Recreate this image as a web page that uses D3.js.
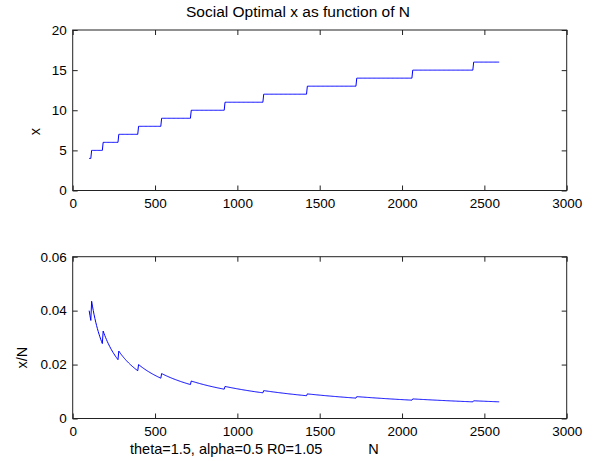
<!DOCTYPE html>
<html>
<head>
<meta charset="utf-8">
<script src="https://cdn.jsdelivr.net/npm/d3@7/dist/d3.min.js"></script>
<style>
  html, body { margin: 0; padding: 0; background: #fff; }
  svg { display: block; }
  text { font-family: "Liberation Sans", Arial, sans-serif; fill: #000; }
</style>
</head>
<body>
<svg id="chart" width="595" height="461"></svg>
<script>
// ---- data ----
// N at which the optimal x changes, and the x value from that N on
const stepN = [100, 113, 183, 280, 398, 540, 718, 925, 1160, 1423, 1725, 2061, 2435];
const stepX = [4, 5, 6, 7, 8, 9, 10, 11, 12, 13, 14, 15, 16];
const nStart = 100, nEnd = 2590, nStep = 5;   // sampling of N used in the plot

const xTicks = [0, 500, 1000, 1500, 2000, 2500, 3000];
const xTickLabels = ["0", "500", "1000", "1500", "2000", "2500", "3000"];
const topYTicks = [0, 5, 10, 15, 20];
const topYTickLabels = ["0", "5", "10", "15", "20"];
const botYTicks = [0, 0.02, 0.04, 0.06];
const botYTickLabels = ["0", "0.02", "0.04", "0.06"];

const titleText = "Social Optimal x as function of N";
const noteText = "theta=1.5, alpha=0.5 R0=1.05";

// ---- build series ----
function xAt(n) {
  let v = stepX[0];
  for (let i = 0; i < stepN.length; i++) if (n >= stepN[i]) v = stepX[i];
  return v;
}
const Ns = d3.range(nStart, nEnd + 1, nStep);
const series = Ns.map(n => ({ n: n, x: xAt(n), r: xAt(n) / n }));

// ---- layout ----
const svg = d3.select("#chart");
svg.append("rect").attr("width", 595).attr("height", 461).attr("fill", "#fff");

const L = 72.7, R = 566.7;
const xScale = d3.scaleLinear().domain([0, 3000]).range([L, R]);
const yTop = d3.scaleLinear().domain([0, 20]).range([190.5, 30]);
const yBot = d3.scaleLinear().domain([0, 0.06]).range([418.5, 256.7]);

const tickFont = "13.5px";

function drawAxes(y, yTicks, yLabels) {
  const [y0, y1] = y.range();
  const g = svg.append("g");
  const fmtX = d => xTickLabels[xTicks.indexOf(d)];
  const fmtY = d => yLabels[yTicks.indexOf(d)];

  const ax = g.append("g").attr("transform", `translate(0,${y0})`)
    .call(d3.axisBottom(xScale).tickValues(xTicks).tickFormat(fmtX)
      .tickSizeInner(-5).tickSizeOuter(0).tickPadding(8));
  const axT = g.append("g").attr("transform", `translate(0,${y1})`)
    .call(d3.axisTop(xScale).tickValues(xTicks).tickFormat("")
      .tickSizeInner(-5).tickSizeOuter(0));
  const ay = g.append("g").attr("transform", `translate(${L},0)`)
    .call(d3.axisLeft(y).tickValues(yTicks).tickFormat(fmtY)
      .tickSizeInner(-5).tickSizeOuter(0).tickPadding(6));
  const ayR = g.append("g").attr("transform", `translate(${R},0)`)
    .call(d3.axisRight(y).tickValues(yTicks).tickFormat("")
      .tickSizeInner(-5).tickSizeOuter(0));

  [ax, axT, ay, ayR].forEach(a => {
    a.select(".domain").remove();
    a.selectAll("line").attr("stroke", "#222").attr("stroke-width", 1);
    a.selectAll("text").style("font-size", tickFont)
      .style("font-family", '"Liberation Sans", Arial, sans-serif').attr("fill", "#000");
  });
  g.append("rect").attr("x", L).attr("y", y1).attr("width", R - L).attr("height", y0 - y1)
    .attr("fill", "none").attr("stroke", "#222").attr("stroke-width", 1);
}

drawAxes(yTop, topYTicks, topYTickLabels);
drawAxes(yBot, botYTicks, botYTickLabels);

// top: x vs N (step)
svg.append("path").datum(series)
  .attr("fill", "none").attr("stroke", "#0000ff").attr("stroke-width", 1)
  .attr("d", d3.line().x(d => xScale(d.n)).y(d => yTop(d.x)));

// bottom: x/N vs N
svg.append("path").datum(series)
  .attr("fill", "none").attr("stroke", "#0000ff").attr("stroke-width", 1)
  .attr("d", d3.line().x(d => xScale(d.n)).y(d => yBot(d.r)));

// titles & labels
svg.append("text").attr("x", 298).attr("y", 16.5).attr("text-anchor", "middle")
  .style("font-size", "15.5px").text(titleText);

svg.append("text").attr("transform", "translate(39.5,131.7) rotate(-90)")
  .attr("text-anchor", "middle").style("font-size", "14.5px").text("x");
svg.append("text").attr("transform", "translate(27,357.7) rotate(-90)")
  .attr("text-anchor", "middle").style("font-size", "14.5px").text("x/N");

svg.append("text").attr("x", 130).attr("y", 453.5)
  .style("font-size", "14.5px").text(noteText);
svg.append("text").attr("x", 373.5).attr("y", 453.5).attr("text-anchor", "middle")
  .style("font-size", "14.5px").text("N");
</script>
</body>
</html>
